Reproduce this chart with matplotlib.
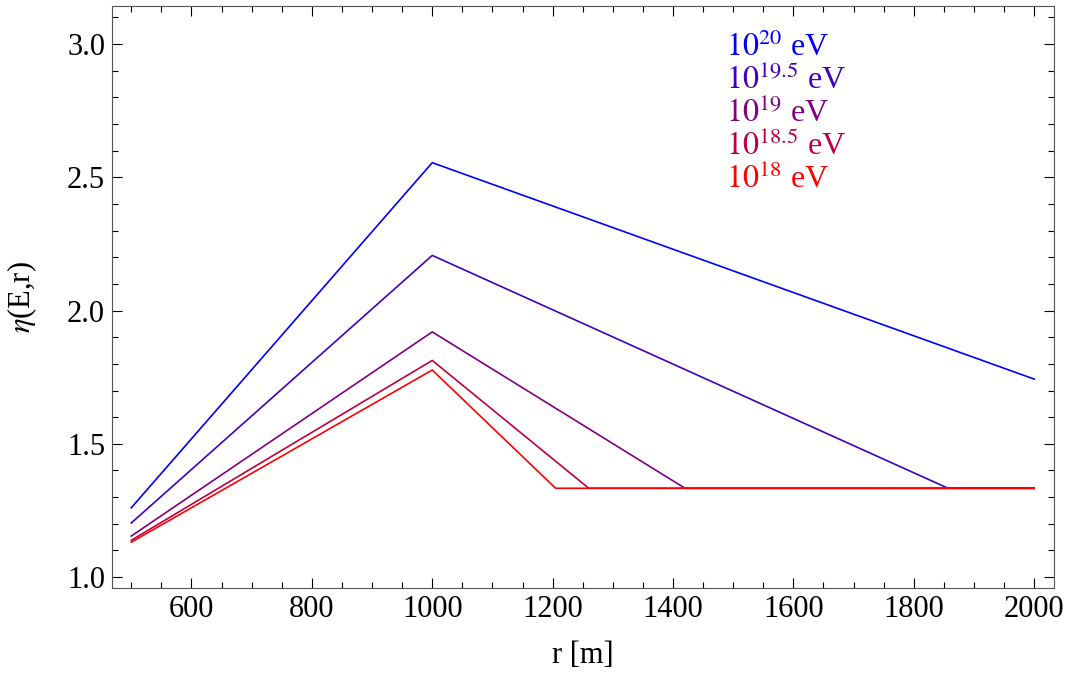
import numpy as np
import matplotlib
matplotlib.use("Agg")
import matplotlib.pyplot as plt
from matplotlib.ticker import MultipleLocator

plt.rcParams['font.family'] = ['Liberation Serif', 'DejaVu Serif']
plt.rcParams['mathtext.fontset'] = 'stix'

# energies, outermost line first
labels = [r'$10^{20}$ eV', r'$10^{19.5}$ eV', r'$10^{19}$ eV',
          r'$10^{18.5}$ eV', r'$10^{18}$ eV']
colors = ['#0000ff', '#4000bf', '#800080', '#bf0040', '#ff0000']

# break points of each curve (r in m, eta)
r_pts = [
    [500, 1000, 2000],
    [500, 1000, 1857, 2000],
    [500, 1000, 1420, 2000],
    [500, 1000, 1260, 2000],
    [500, 1000, 1205, 2000],
]
eta_pts = [
    [1.260, 2.555, 1.743],
    [1.203, 2.207, 4 / 3, 4 / 3],
    [1.154, 1.920, 4 / 3, 4 / 3],
    [1.138, 1.813, 4 / 3, 4 / 3],
    [1.131, 1.777, 4 / 3, 4 / 3],
]

fig = plt.figure(figsize=(10.74, 6.78), dpi=100)
ax = fig.add_axes([0.1043, 0.1327, 0.8771, 0.8585])

for r, eta, c in zip(r_pts, eta_pts, colors):
    ax.plot(r, eta, color=c, lw=1.2)

ax.set_xlim(468, 2033)
ax.set_ylim(0.959, 3.143)
ax.xaxis.set_major_locator(MultipleLocator(200))
ax.xaxis.set_minor_locator(MultipleLocator(50))
ax.yaxis.set_major_locator(MultipleLocator(0.5))
ax.yaxis.set_minor_locator(MultipleLocator(0.1))
ax.yaxis.set_major_formatter(plt.FuncFormatter(lambda v, p: f'{v:.1f}'))

ax.tick_params(which='both', direction='in', top=True, right=True,
               labelsize=22, width=0.8, colors='black')
ax.tick_params(which='major', length=7, pad=5)
ax.tick_params(which='minor', length=4)
for s in ax.spines.values():
    s.set_linewidth(0.8)
    s.set_color('#555555')

ax.set_xlabel('r [m]', fontsize=22, labelpad=12)
ax.set_ylabel(r'$\eta$(E,r)', fontsize=22, labelpad=20)

for i, (lab, c) in enumerate(zip(labels, colors)):
    ax.text(0.652, 0.955 - i * 0.0565, lab, color=c, fontsize=23,
            transform=ax.transAxes, va='top', ha='left')

fig.savefig('out.png', dpi=100)
